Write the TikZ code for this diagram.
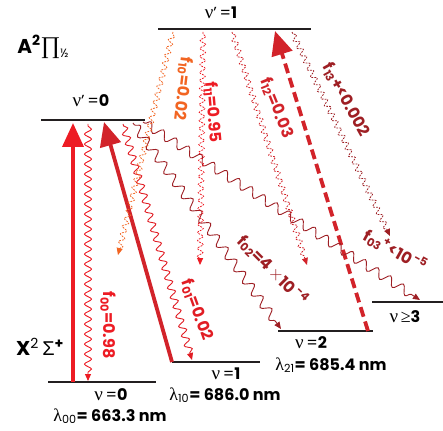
\documentclass[tikz,border=0pt]{standalone}
\usepackage{fontspec}
\setmainfont{Poppins}
\newfontfamily\gk{Liberation Serif}
\newfontfamily\gks{Liberation Sans}
\usetikzlibrary{decorations.pathmorphing,arrows.meta}
\definecolor{lvl}{HTML}{231F20}
\definecolor{bred}{HTML}{ED1C24}
\definecolor{mred}{HTML}{D2232A}
\definecolor{dred}{HTML}{9E1F24}
\definecolor{orng}{HTML}{F26522}
\newcommand{\fs}[1]{f\textsubscript{#1}}
\newcommand{\nuu}{{\gk\mdseries\fontsize{19}{19}\selectfont ν}}
\newcommand{\lam}[1]{{\gk\mdseries\fontsize{18}{18}\selectfont λ}\textsubscript{\mdseries #1}}
\begin{document}
\begin{tikzpicture}[x=1pt,y=-1pt,
  level/.style={lvl,line width=2.6pt},
  wv/.style={decorate,decoration={snake,amplitude=3.5pt,segment length=10pt,pre length=2pt,post length=6pt},line width=0.9pt,-{Triangle[length=7pt,width=6pt]}},
  wvl/.style={decorate,decoration={snake,amplitude=4.5pt,segment length=15pt,pre length=2pt,post length=6pt},line width=0.9pt,-{Triangle[length=7pt,width=6pt]}},
  dw/.style={decorate,decoration={snake,amplitude=2.8pt,segment length=8pt,pre length=2pt,post length=6pt},line width=0.8pt,dash pattern=on 1.8pt off 1.2pt,-{Triangle[length=7pt,width=6pt]}},
  pump/.style={line width=3.8pt,-{Triangle[length=24pt,width=21pt]}},
  flab/.style={inner sep=0pt,font=\fontsize{16}{18}\selectfont\bfseries},
  lvtxt/.style={inner sep=0pt,font=\fontsize{16}{18}\selectfont},
  wl/.style={inner sep=0pt,font=\fontsize{16}{18}\selectfont\bfseries},
  term/.style={inner sep=0pt,font=\fontsize{20}{22}\selectfont}
]
\useasboundingbox (0,0) rectangle (443,430);
% levels
\coordinate (u1a) at (158,29); \coordinate (u1b) at (311,29);
\coordinate (u0a) at (41,120); \coordinate (u0b) at (145,120);
\coordinate (g0a) at (48,382); \coordinate (g0b) at (156,382);
\coordinate (g1a) at (172,362); \coordinate (g1b) at (260,362);
\coordinate (g2a) at (278,331); \coordinate (g2b) at (373,331);
\coordinate (g3a) at (372,302); \coordinate (g3b) at (443,302);
\draw[level] (u1a) -- (u1b);
\draw[level] (u0a) -- (u0b);
\draw[level] (g0a) -- (g0b);
\draw[level] (g1a) -- (g1b);
\draw[level] (g2a) -- (g2b);
\draw[level] (g3a) -- (g3b);
% level labels
\node[lvtxt] (tu1) at (221,13) {\nuu'\,=\textbf{1}};
\node[lvtxt] (tu0) at (91,101) {\nuu'\,=\textbf{0}};
\node[lvtxt] (tg0) at (111,395) {\nuu\,=\textbf{0}};
\node[lvtxt] (tg1) at (226,374) {\nuu\,=\textbf{1}};
\node[lvtxt] (tg2) at (311,343) {\nuu\,=\textbf{2}};
\node[lvtxt] (tg3) at (405,317) {\nuu\,{\gk\fontsize{18}{18}\selectfont ≥}\textbf{3}};
\node[wl] (l00) at (110,416) {\lam{00}= 663.3 nm};
\node[wl] (l10) at (225,395) {\lam{10}= 686.0 nm};
\node[wl] (l21) at (331,365) {\lam{21}= 685.4 nm};
\node[term] (Aterm) at (43,47) {\textbf{A}\textsuperscript{\textbf{2}}{\gk\fontsize{24}{24}\selectfont ∏}\raisebox{-4pt}{\fontsize{12}{12}\selectfont ½}};
\node[term] (Xterm) at (40,347) {\textbf{X}\textsuperscript{2}\,{\gks Σ}\textsuperscript{\textbf{+}}};
% decay endpoints
\coordinate (s00) at (88,124); \coordinate (e00) at (88,381);
\coordinate (s01) at (123,124); \coordinate (e01) at (192,360);
\coordinate (s02) at (133,123); \coordinate (e02) at (281,329);
\coordinate (s03) at (143,122); \coordinate (e03) at (420,300);
\coordinate (s10) at (173,32); \coordinate (e10) at (118,255);
\coordinate (s11) at (203,32); \coordinate (e11) at (200,265);
\coordinate (s12) at (232,32); \coordinate (e12) at (307,265);
\coordinate (s13) at (292,32); \coordinate (e13) at (390,236);
% pump arrows
\coordinate (p0s) at (73,382); \coordinate (p0e) at (73,123);
\coordinate (p1s) at (172,362); \coordinate (p1e) at (104,122);
\coordinate (p2s) at (368,331); \coordinate (p2e) at (275,31);
\draw[pump,bred] (p0s) -- (p0e);
\draw[pump,mred] (p1s) -- (p1e);
\draw[pump,mred,dash pattern=on 10pt off 5pt] (p2s) -- (p2e);
% decays from v'=0
\draw[wv,bred] (s00) -- (e00);
\draw[wv,bred!85!dred] (s01) -- (e01);
\draw[wvl,dred] (s02) -- (e02);
\draw[wvl,dred] (s03) -- (e03);
% decays from v'=1
\draw[dw,orng] (s10) -- (e10);
\draw[dw,bred] (s11) -- (e11);
\draw[dw,mred] (s12) -- (e12);
\draw[dw,dred] (s13) -- (e13);
% labels
\node[flab,bred,rotate=-90] (f00) at (108,325) {\fs{00}=0.98};
\node[flab,bred!85!dred,rotate=-70] (f01) at (197,310) {\fs{01}=0.02};
\node[flab,dred,rotate=-45] (f02) at (273,270) {\fs{02}=4\,$\times$10\textsuperscript{\,-4}};
\node[flab,dred,rotate=-29] (f03) at (395,251) {\fs{03}\textsuperscript{+}<10\textsuperscript{\,-5}};
\node[flab,orng,rotate=-97] (f10) at (183,89) {\fs{10}=0.02};
\node[flab,bred,rotate=-85] (f11) at (213,112) {\fs{11}=0.95};
\node[flab,mred,rotate=-68] (f12) at (277,108) {\fs{12}=0.03};
\node[flab,dred,rotate=-61] (f13) at (346,100) {\fs{13}+<0.002};
\end{tikzpicture}
\end{document}
